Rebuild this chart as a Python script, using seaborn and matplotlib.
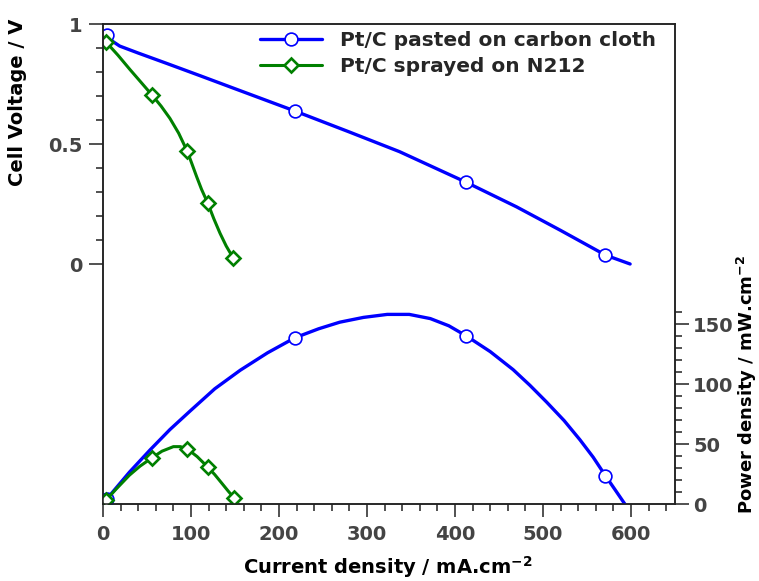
import matplotlib
matplotlib.use("Agg")
import matplotlib.pyplot as plt
from matplotlib.ticker import FixedLocator
import seaborn as sns

sns.set_theme(style="white")
plt.rcParams['font.family'] = ['DejaVu Sans']
plt.rcParams['mathtext.fontset'] = 'dejavusans'

# ---- data ----
# Pt/C pasted on carbon cloth: polarisation curve
cc_v_current = [4.5, 10, 19, 40, 73, 110, 148, 218, 280, 337, 413, 470, 520, 571, 599]
cc_voltage = [0.954, 0.930, 0.908, 0.879, 0.835, 0.785, 0.733, 0.6375, 0.550, 0.468, 0.340, 0.238, 0.140, 0.037, 0.0]
cc_v_markers = [0, 7, 10, 13]

# Pt/C pasted on carbon cloth: power density
cc_p_current = [4.5, 30, 53.4, 76, 99, 127, 156, 187, 218, 245, 269, 296, 323, 348,
                372, 393, 413, 440, 466, 485, 504, 524, 542, 557, 571, 582, 593]
cc_power = [4.3, 26.5, 45, 62, 77.5, 96, 111.5, 126, 138.5, 146, 151.5, 155.5, 158, 158,
            154.5, 148.5, 140, 127, 112, 99, 85, 69.5, 53.5, 39, 23.5, 11.8, 0]
cc_p_markers = [0, 8, 16, 24]

# Pt/C sprayed on N212: polarisation curve
n_v_current = [3.4, 17, 30.7, 43, 55.7, 66, 76, 86, 95.7, 101, 106.4, 112, 119, 126, 133, 140, 148]
n_voltage = [0.925, 0.870, 0.810, 0.758, 0.704, 0.658, 0.607, 0.545, 0.470, 0.418, 0.364, 0.311, 0.254, 0.188, 0.128, 0.075, 0.025]
n_v_markers = [0, 4, 8, 12, 16]

# Pt/C sprayed on N212: power density
n_p_current = [3.4, 15, 30, 42, 55.3, 67, 80, 88, 96, 107, 119, 127, 134.8, 142, 149]
n_power = [3.2, 12.5, 24, 31.5, 38.3, 44, 47.8, 47.8, 45.8, 39.5, 30.8, 24.5, 17.5, 11, 5]
n_p_markers = [0, 4, 8, 10, 14]

series_labels = ["Pt/C pasted on carbon cloth", "Pt/C sprayed on N212"]
x_ticks = [0, 100, 200, 300, 400, 500, 600]
v_ticks = [0, 0.5, 1]
v_ticklabels = ["0", "0.5", "1"]
p_ticks = [0, 50, 100, 150]

BLUE = "#0000ff"
GREEN = "#008000"
SPINE = "#222222"
TICKC = "#444444"

fig = plt.figure(figsize=(7.59, 5.81), dpi=100)
W, H = 759, 581
ax = fig.add_axes([103 / W, 1 - 504 / H, 572 / W, 480 / H])
ax2 = ax.twinx()

common_cc = dict(color=BLUE, lw=2.4, marker='o', ms=9.2, mfc='white',
                 mec=BLUE, mew=1.2, sort=False, estimator=None)
common_n = dict(color=GREEN, lw=2.2, marker='D', ms=7.0, mfc='white',
                mec=GREEN, mew=1.9, sort=False, estimator=None)

sns.lineplot(x=cc_v_current, y=cc_voltage, ax=ax, markevery=cc_v_markers,
             label=series_labels[0], **common_cc)
sns.lineplot(x=n_v_current, y=n_voltage, ax=ax, markevery=n_v_markers,
             label=series_labels[1], **common_n)
sns.lineplot(x=cc_p_current, y=cc_power, ax=ax2, markevery=cc_p_markers,
             legend=False, **common_cc)
sns.lineplot(x=n_p_current, y=n_power, ax=ax2, markevery=n_p_markers,
             legend=False, **common_n)

ax.set_xlim(0, 650)
ax.set_ylim(-1, 1)
ax2.set_ylim(0, 400)

ax.set_xticks(x_ticks)
ax.xaxis.set_minor_locator(FixedLocator([v for v in range(0, 660, 20) if v % 100 != 0]))
ax.set_yticks(v_ticks)
ax.set_yticklabels(v_ticklabels)
ax.yaxis.set_minor_locator(FixedLocator([round(0.1 * i, 1) for i in range(1, 10) if i != 5]))
ax2.set_yticks(p_ticks)
ax2.yaxis.set_minor_locator(FixedLocator([v for v in range(10, 170, 10) if v % 50 != 0]))

for a in (ax, ax2):
    for s in a.spines.values():
        s.set_color(SPINE)
        s.set_linewidth(1.1)
        s.set_visible(True)

tick_font = dict(labelsize=14, labelcolor=TICKC, color=SPINE, direction='out')
ax.tick_params(axis='x', which='major', bottom=True, top=False, length=9, width=1.1, pad=6, **tick_font)
ax.tick_params(axis='x', which='minor', bottom=True, top=False, length=5, width=1.1, color=SPINE, direction='out')
ax.tick_params(axis='y', which='major', left=True, right=False, length=10, width=1.1, pad=5, **tick_font)
ax.tick_params(axis='y', which='minor', left=True, right=False, length=5, width=1.1, color=SPINE, direction='out')
ax2.tick_params(axis='y', which='major', right=True, left=False, length=10, width=1.1, pad=3, **tick_font)
ax2.tick_params(axis='y', which='minor', right=True, left=False, length=5, width=1.1, color=SPINE, direction='out')
for lab in ax.get_xticklabels() + ax.get_yticklabels() + ax2.get_yticklabels():
    lab.set_fontweight('bold')

ax.set_xlabel(r"Current density / mA.cm$\mathbf{^{-2}}$", fontsize=14, fontweight='bold', color='black')
ax.xaxis.set_label_coords(0.498, -0.104)
ax.set_ylabel("Cell Voltage / V", fontsize=14, fontweight='bold', color='black')
ax.yaxis.set_label_coords(-0.133, 0.8375)
ax2.set_ylabel(r"Power density / mW.cm$\mathbf{^{-2}}$", fontsize=13, fontweight='bold', color='black')
ax2.yaxis.set_label_coords(1.104, 0.25)

leg = ax.legend(loc='upper left', bbox_to_anchor=(0.2745, 0.985), frameon=False,
                prop=dict(size=14.5, weight='bold'), handlelength=3.1, handletextpad=0.85,
                labelspacing=0.35, borderpad=0, borderaxespad=0)

ax.grid(False)
ax2.grid(False)
fig.savefig("out.png", dpi=100)
